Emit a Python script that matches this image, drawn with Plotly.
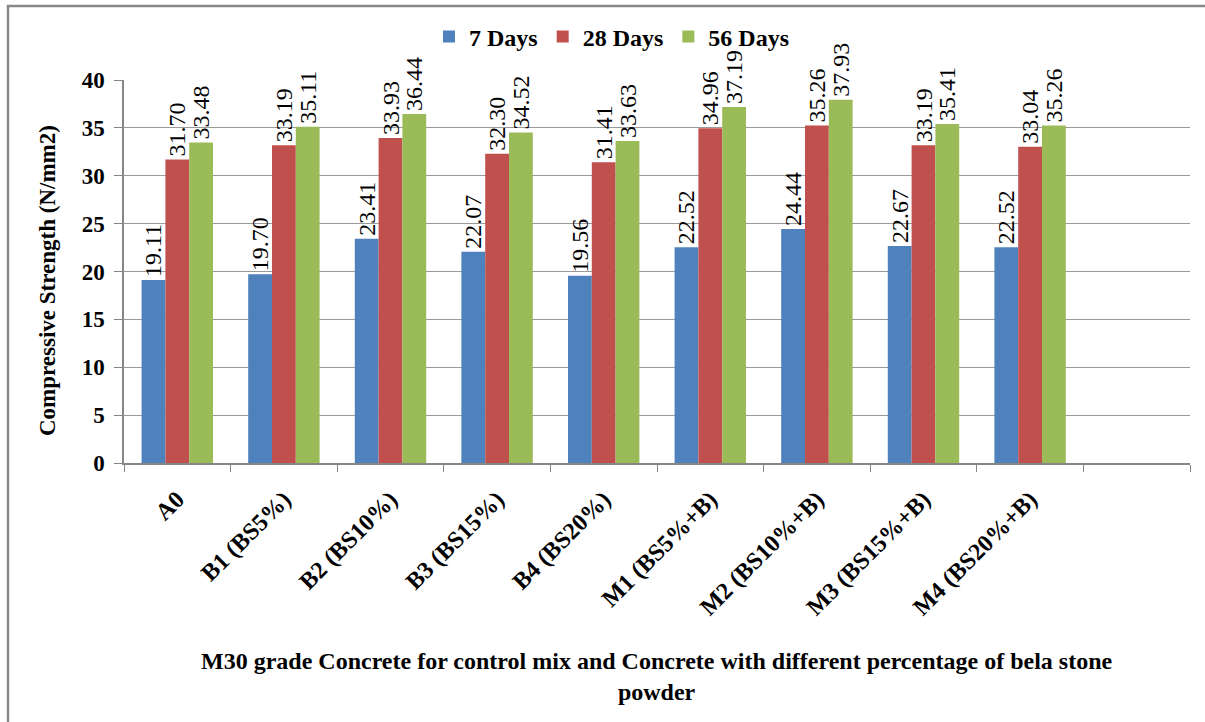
import plotly.graph_objects as go

categories = ["A0", "B1 (BS5%)", "B2 (BS10%)", "B3 (BS15%)", "B4 (BS20%)",
              "M1 (BS5%+B)", "M2 (BS10%+B)", "M3 (BS15%+B)", "M4 (BS20%+B)"]
days7 = [19.11, 19.70, 23.41, 22.07, 19.56, 22.52, 24.44, 22.67, 22.52]
days28 = [31.70, 33.19, 33.93, 32.30, 31.41, 34.96, 35.26, 33.19, 33.04]
days56 = [33.48, 35.11, 36.44, 34.52, 33.63, 37.19, 37.93, 35.41, 35.26]
series_names = ["7 Days", "28 Days", "56 Days"]
colors = ["#4F81BD", "#C0504D", "#9BBB59"]

# empty trailing slot as in the reference
x_cats = categories + [" "]

FONT = "Liberation Serif, Times New Roman, serif"

fig = go.Figure()
for name, vals, col in zip(series_names, [days7, days28, days56], colors):
    yv = vals + [None]
    fig.add_trace(go.Bar(
        x=x_cats, y=yv, name=name, marker_color=col,
        marker_line_width=0,
        text=[f"{v:.2f}" if v is not None else "" for v in yv],
        textposition="outside", textangle=-90, constraintext="none",
        textfont=dict(family=FONT, size=24, color="black"),
        cliponaxis=False,
    ))

L, R, T, B = 124, 15, 80, 259
W, H = 1205, 722
pw, ph = W - L - R, H - T - B

def px_x(p):
    return (p - L) / pw

def px_y(p):
    return (H - B - p) / ph

fig.update_layout(
    width=W, height=H,
    margin=dict(l=L, r=R, t=T, b=B, autoexpand=False),
    paper_bgcolor="white", plot_bgcolor="white",
    barmode="group", bargap=0.33, bargroupgap=0,
    font=dict(family=FONT, color="black"),
    showlegend=True,
    legend=dict(orientation="h", x=px_x(612), xanchor="center", y=px_y(37), yanchor="middle",
                font=dict(family=FONT, size=24, color="black", weight="bold"),
                itemwidth=30, traceorder="normal", bgcolor="rgba(0,0,0,0)"),
    xaxis=dict(
        type="category", categoryorder="array", categoryarray=x_cats,
        range=[-0.5, 9.5],
        tickangle=-45, tickson="boundaries", ticks="outside", ticklen=7,
        tickcolor="#868686", showline=True, linecolor="#868686", linewidth=1.5,
        tickfont=dict(family=FONT, size=24, color="black", weight="bold"),
        ticklabelstandoff=11,
        showgrid=False,
    ),
    yaxis=dict(
        range=[0, 40], dtick=5, ticks="outside", ticklen=8, tickcolor="#868686",
        showline=True, linecolor="#868686", linewidth=1.5,
        gridcolor="#9A9A9A", gridwidth=1.2,
        tickfont=dict(family=FONT, size=23, color="black", weight="bold"),
        ticklabelstandoff=5,
        zeroline=False,
    ),
    annotations=[
        dict(text="M30 grade Concrete for control mix and Concrete with different percentage of bela stone<br>powder",
             xref="paper", yref="paper", x=px_x(657), y=px_y(676), xanchor="center", yanchor="middle",
             showarrow=False, font=dict(family=FONT, size=24, color="black", weight="bold")),
        dict(text="Compressive Strength (N/mm2)", textangle=-90,
             xref="paper", yref="paper", x=px_x(47), y=px_y(281), xanchor="center", yanchor="middle",
             showarrow=False, font=dict(family=FONT, size=23, color="black", weight="bold")),
    ],
    shapes=[
        dict(type="rect", xref="paper", yref="paper",
             x0=px_x(8), x1=px_x(1215), y0=px_y(740), y1=px_y(6),
             line=dict(color="#888888", width=2.5), fillcolor="rgba(0,0,0,0)", layer="below"),
    ],
)

fig.write_html("out.html", config={"displayModeBar": False},
               post_script="document.body.style.margin='0';document.body.style.padding='0';")
